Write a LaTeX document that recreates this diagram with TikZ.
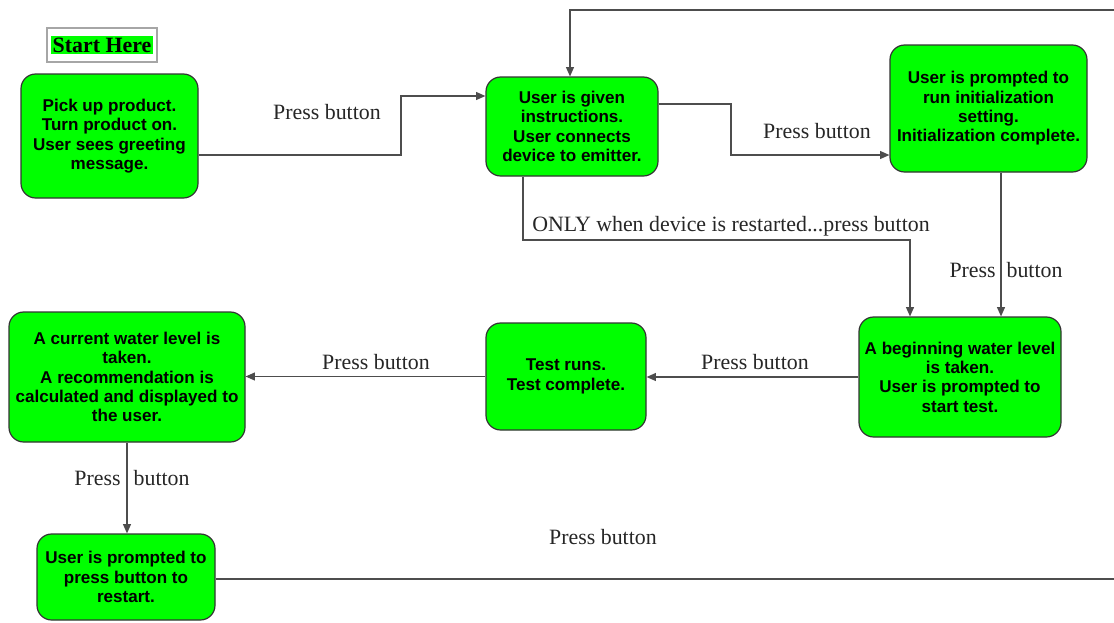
\documentclass[tikz,border=0pt]{standalone}
\usepackage{fontspec}
\setmainfont{Liberation Serif}
\newfontfamily\boxfont{Liberation Sans}
\usetikzlibrary{arrows.meta}
\definecolor{boxgreen}{HTML}{00FF00}
\definecolor{linegray}{HTML}{4D4D4D}
\tikzset{
  stepbox/.style={draw=black!80, line width=0.9pt, fill=boxgreen, rounded corners=11pt,
    align=center, inner sep=2pt, font=\boxfont\bfseries\fontsize{12.8}{14.5}\selectfont},
  sz/.style 2 args={minimum width=#1*0.75pt, minimum height=#2*0.75pt},
  conn/.style={draw=linegray, line width=0.85pt, -{Triangle[length=7pt,width=6pt]}},
  lbl/.style={font=\fontsize{16.4}{19}\selectfont, inner sep=0pt, text=black!85},
}
\begin{document}
\begin{tikzpicture}[x=0.75pt,y=-0.75pt]
\useasboundingbox (0,0) rectangle (1114,622);
\clip (0,0) rectangle (1114,622);

% start label
\node[draw=black!35, line width=1.3pt, sz={110}{34}, inner sep=0pt,
      font=\bfseries\fontsize{16.4}{18}\selectfont] (start) at (102,45)
      {\setlength{\fboxsep}{1.6pt}\colorbox{boxgreen}{Start Here}};

% boxes
\node[stepbox, sz={177}{124}] (n1) at (109.5,136)
  {Pick up product.\\Turn product on.\\User sees greeting\\message.};
\node[stepbox, sz={172}{99}] (n2) at (572,126.5)
  {User is given\\instructions.\\User connects\\device to emitter.};
\node[stepbox, sz={197}{127}] (n3) at (988.5,108.5)
  {User is prompted to\\run initialization\\setting.\\Initialization complete.};
\node[stepbox, sz={202}{120}] (n4) at (960,377)
  {A beginning water level\\is taken.\\User is prompted to\\start test.};
\node[stepbox, sz={160}{107}] (n5) at (566,376.5)
  {Test runs.\\Test complete.};
\node[stepbox, sz={236}{130}] (n6) at (127,377)
  {A current water level is\\taken.\\A recommendation is\\calculated and displayed to\\the user.};
\node[stepbox, sz={178}{86}] (n7) at (126,577)
  {User is prompted to\\press button to\\restart.};

% connectors
\draw[conn] (n1.east |- 0,155) -| (401,96) -- (n2.west |- 0,96);
\draw[conn] (n2.east |- 0,104) -| (731,155) -- (n3.west |- 0,155);
\draw[conn] (n3.south -| 1001,0) -- (n4.north -| 1001,0);
\draw[conn] (n2.south -| 523,0) |- (910,240) -- (n4.north -| 910,0);
\draw[conn] (n4.west) -- (n4.west -| n5.east);
\draw[conn] (n5.west) -- (n5.west -| n6.east);
\draw[conn] (n6.south) -- (n6.south |- n7.north);
\coordinate (loopR) at (1130,579);
\coordinate (loopT) at (1130,10);
\draw[conn] (n7.east |- 0,579) -- (loopR) -- (loopT) -| (n2.north -| 570,0);

% labels
\node[lbl] (l1) at (327,112) {Press button};
\node[lbl] (l2) at (817,131) {Press button};
\node[lbl] (l3) at (1006,270) {Press\hspace{0.5em}button};
\node[lbl] (l4) at (731,226) {ONLY when device is restarted...press button};
\node[lbl] (l5) at (755,362) {Press button};
\node[lbl] (l6) at (376,362) {Press button};
\node[lbl] (l7) at (132,478) {Press\hspace{0.6em}button};
\node[lbl] (l8) at (603,537) {Press button};
\end{tikzpicture}
\end{document}
